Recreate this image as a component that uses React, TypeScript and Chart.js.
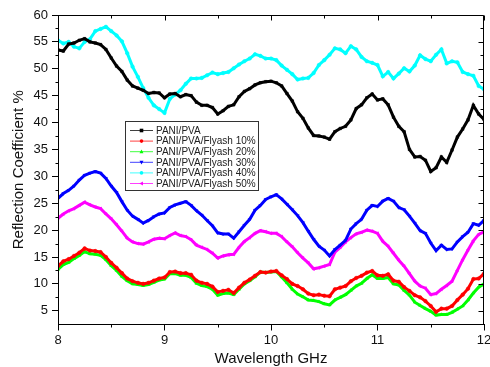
import React, { useEffect, useRef } from "react";
import { Chart, registerables } from "chart.js";

Chart.register(...registerables);

const X_GHZ = [
  8.0, 8.05, 8.1, 8.15, 8.2, 8.25, 8.3, 8.35, 8.4, 8.45,
  8.5, 8.55, 8.6, 8.65, 8.7, 8.75, 8.8, 8.85, 8.9, 8.95,
  9.0, 9.05, 9.1, 9.15, 9.2, 9.25, 9.3, 9.35, 9.4, 9.45,
  9.5, 9.55, 9.6, 9.65, 9.7, 9.75, 9.8, 9.85, 9.9, 9.95,
  10.0, 10.05, 10.1, 10.15, 10.2, 10.25, 10.3, 10.35, 10.4, 10.45,
  10.5, 10.55, 10.6, 10.65, 10.7, 10.75, 10.8, 10.85, 10.9, 10.95,
  11.0, 11.05, 11.1, 11.15, 11.2, 11.25, 11.3, 11.35, 11.4, 11.45,
  11.5, 11.55, 11.6, 11.65, 11.7, 11.75, 11.8, 11.85, 11.9, 11.95,
  12.0,
];

const PANI_PVA = [
  53.5, 53.3, 54.6, 54.8, 55.3, 55.6, 55.0, 54.8, 54.5, 53.6,
  52.0, 50.5, 49.5, 47.9, 46.8, 46.4, 46.0, 45.4, 45.6, 45.5,
  44.6, 45.3, 45.4, 44.8, 45.2, 45.0, 43.8, 43.2, 43.2, 42.8,
  41.6, 42.2, 43.0, 43.3, 44.8, 45.8, 46.3, 47.0, 47.4, 47.6,
  47.7, 47.4, 46.8, 45.4, 44.0, 42.0, 40.8, 39.0, 37.6, 37.5,
  37.3, 36.9, 38.3, 38.9, 39.3, 40.5, 42.6, 43.3, 44.6, 45.3,
  44.2, 44.4, 43.3, 41.0, 39.3, 38.3, 35.0, 33.6, 33.7, 33.0,
  30.9, 31.6, 33.6, 32.6, 34.9, 37.3, 38.8, 40.5, 43.2, 41.6,
  40.6,
];

const FLYASH_10 = [
  13.3, 14.2, 14.6, 15.2, 15.8, 16.6, 16.2, 16.1, 15.9, 15.0,
  13.9, 13.0, 12.0, 11.0, 10.5, 10.2, 10.0, 10.2, 10.6, 11.0,
  11.2, 12.2, 12.3, 12.0, 12.0, 11.7, 10.6, 10.2, 10.0, 9.5,
  8.5, 8.7, 8.9, 8.3, 9.3, 10.2, 10.8, 11.5, 12.2, 12.1,
  12.3, 12.4, 11.6, 10.9, 10.0, 9.6, 9.0, 8.2, 7.9, 8.0,
  7.8, 7.7, 9.0, 9.3, 9.6, 10.5, 11.1, 11.5, 12.1, 12.4,
  11.6, 11.5, 11.8, 10.6, 10.4, 9.4, 8.7, 7.9, 7.5, 6.8,
  5.9, 4.8, 5.4, 5.4, 5.9, 7.0, 8.0, 9.1, 10.9, 11.0,
  11.9,
];

const FLYASH_20 = [
  12.7, 13.6, 14.0, 14.7, 15.3, 16.0, 15.6, 15.5, 15.3, 14.5,
  13.4, 12.5, 11.4, 10.6, 10.0, 9.9, 9.7, 9.9, 10.3, 10.7,
  10.9, 11.9, 11.9, 11.6, 11.6, 11.2, 10.1, 9.7, 9.5, 9.0,
  7.9, 8.2, 8.3, 8.0, 9.0, 10.0, 10.6, 11.3, 12.2, 12.1,
  12.2, 12.3, 11.3, 10.2, 9.0, 8.1, 7.6, 7.0, 6.9, 6.7,
  6.3, 6.1, 7.0, 7.5, 8.0, 8.8, 9.6, 10.1, 11.0, 11.7,
  11.0, 11.0, 11.2, 10.0, 9.8, 8.8, 7.9, 6.6, 6.0, 5.4,
  4.9, 4.2, 4.3, 4.3, 4.7, 5.3, 5.9, 7.0, 8.3, 9.4,
  10.0,
];

const FLYASH_30 = [
  25.9, 26.8, 27.4, 28.2, 29.3, 30.2, 30.6, 30.9, 30.6, 29.6,
  28.2, 27.0, 25.3, 23.7, 22.6, 22.0, 21.3, 21.8, 22.5, 23.0,
  23.2, 24.2, 24.7, 25.0, 25.3, 24.6, 23.6, 22.8, 21.8, 20.8,
  19.5, 19.3, 19.3, 18.5, 19.7, 20.9, 22.0, 23.7, 24.6, 25.7,
  26.2, 26.6, 25.8, 24.8, 23.8, 22.7, 21.4, 19.8, 18.3, 17.0,
  16.3, 15.2, 16.4, 17.2, 18.1, 20.2, 21.2, 22.0, 23.7, 24.6,
  24.4, 25.4, 25.9, 25.4, 24.2, 23.8, 22.6, 21.3, 19.9, 19.4,
  17.6, 16.2, 17.2, 16.4, 16.5, 17.8, 18.8, 19.6, 21.2, 20.9,
  21.8,
];

const FLYASH_40 = [
  55.3, 54.7, 55.0, 54.1, 53.8, 55.0, 55.5, 57.0, 57.4, 57.8,
  57.0, 56.2, 55.1, 52.9, 50.4, 48.5, 46.4, 44.6, 43.2, 42.5,
  41.8, 44.4, 45.2, 46.0, 47.2, 48.2, 48.2, 48.3, 48.8, 49.3,
  49.0, 49.2, 49.4, 50.1, 50.8, 51.4, 51.9, 52.7, 52.4, 51.9,
  51.9, 51.6, 50.6, 49.8, 49.0, 48.0, 48.2, 48.3, 49.2, 50.7,
  51.6, 52.6, 53.8, 53.6, 52.9, 54.2, 53.6, 52.2, 51.4, 51.1,
  50.7, 48.6, 49.4, 48.2, 49.1, 50.1, 49.5, 50.6, 52.5, 51.8,
  51.4, 52.6, 53.6, 51.0, 51.4, 51.2, 49.4, 49.0, 48.7, 46.8,
  46.2,
];

const FLYASH_50 = [
  22.2, 23.0, 23.6, 24.0, 24.6, 25.2, 24.7, 24.3, 24.0, 23.0,
  22.1, 21.0, 19.8, 18.5, 17.8, 17.5, 17.4, 17.8, 18.3, 18.5,
  18.4, 19.0, 19.5, 19.0, 18.8, 18.2, 17.2, 16.8, 16.4, 15.7,
  14.8, 15.2, 15.4, 15.5, 16.8, 17.9, 18.6, 19.4, 19.9, 19.7,
  19.4, 19.4, 18.8, 17.8, 16.9, 15.8, 14.8, 13.9, 12.8, 13.0,
  13.3, 13.6, 15.9, 16.8, 17.8, 18.6, 19.3, 19.6, 20.0, 19.8,
  19.4, 17.9, 17.0, 15.7, 14.4, 13.3, 11.9, 10.5, 9.6, 9.2,
  8.0, 8.2, 9.0, 9.7, 10.5, 12.5, 14.5, 16.3, 18.0, 19.2,
  19.7,
];

const SERIES_NAMES = [
  "PANI/PVA",
  "PANI/PVA/Flyash 10%",
  "PANI/PVA/Flyash 20%",
  "PANI/PVA/Flyash 30%",
  "PANI/PVA/Flyash 40%",
  "PANI/PVA/Flyash 50%",
];
const SERIES_VALUES = [PANI_PVA, FLYASH_10, FLYASH_20, FLYASH_30, FLYASH_40, FLYASH_50];
const SERIES_COLORS = ["#000000", "#ff0000", "#00ff00", "#0000ff", "#00ffff", "#ff00ff"];
const SERIES_MARKERS = ["rect", "circle", "triangle", "triangleDown", "circle", "triangleLeft"];

const X_MAJOR = [8, 9, 10, 11, 12];
const X_MINOR = [8.5, 9.5, 10.5, 11.5];
const Y_MAJOR = [5, 10, 15, 20, 25, 30, 35, 40, 45, 50, 55, 60];
const Y_MINOR = [7.5, 12.5, 17.5, 22.5, 27.5, 32.5, 37.5, 42.5, 47.5, 52.5, 57.5];

const FONT = "Arial, 'Liberation Sans', Helvetica, sans-serif";

function markerStyle(m: string): { style: string; rotation: number } {
  if (m === "triangleDown") return { style: "triangle", rotation: 180 };
  if (m === "triangleLeft") return { style: "triangle", rotation: 270 };
  return { style: m, rotation: 0 };
}

function drawMarker(ctx: CanvasRenderingContext2D, m: string, x: number, y: number, r: number) {
  ctx.beginPath();
  if (m === "rect") {
    ctx.rect(x - r, y - r, 2 * r, 2 * r);
  } else if (m === "circle") {
    ctx.arc(x, y, r, 0, Math.PI * 2);
  } else if (m === "triangle") {
    ctx.moveTo(x, y - r * 1.2);
    ctx.lineTo(x + r * 1.1, y + r * 0.8);
    ctx.lineTo(x - r * 1.1, y + r * 0.8);
  } else if (m === "triangleDown") {
    ctx.moveTo(x, y + r * 1.2);
    ctx.lineTo(x + r * 1.1, y - r * 0.8);
    ctx.lineTo(x - r * 1.1, y - r * 0.8);
  } else if (m === "triangleLeft") {
    ctx.moveTo(x - r * 1.2, y);
    ctx.lineTo(x + r * 0.8, y - r * 1.1);
    ctx.lineTo(x + r * 0.8, y + r * 1.1);
  }
  ctx.closePath();
  ctx.fill();
}

const framePlugin = {
  id: "frame",
  afterDatasetsDraw(chart: any) {
    const { ctx, chartArea } = chart;
    const { left, right, top, bottom } = chartArea;
    const xs = chart.scales.x;
    const ys = chart.scales.y;
    const L = Math.round(left) + 0.5;
    const R = Math.round(right) - 0.5;
    const T = Math.round(top) + 0.5;
    const B = Math.round(bottom) - 0.5;
    ctx.save();
    ctx.strokeStyle = "#000";
    ctx.lineWidth = 1;
    ctx.beginPath();
    ctx.rect(L, T, R - L, B - T);
    ctx.stroke();
    ctx.beginPath();
    for (const v of Y_MINOR) {
      const py = Math.round(ys.getPixelForValue(v)) + 0.5;
      ctx.moveTo(L - 3, py);
      ctx.lineTo(L, py);
      ctx.moveTo(R - 3, py);
      ctx.lineTo(R, py);
    }
    for (const v of Y_MAJOR) {
      const py = Math.round(ys.getPixelForValue(v)) + 0.5;
      ctx.moveTo(R - 5, py);
      ctx.lineTo(R, py);
    }
    for (const v of X_MINOR) {
      const px = Math.round(xs.getPixelForValue(v)) + 0.5;
      ctx.moveTo(px, B);
      ctx.lineTo(px, B + 3);
      ctx.moveTo(px, T);
      ctx.lineTo(px, T + 3);
    }
    for (const v of X_MAJOR) {
      const px = Math.round(xs.getPixelForValue(v)) + 0.5;
      ctx.moveTo(px, T);
      ctx.lineTo(px, T + 5);
    }
    ctx.stroke();
    ctx.restore();
  },
  afterDraw(chart: any) {
    const ctx: CanvasRenderingContext2D = chart.ctx;
    const bx = 125.5;
    const by = 121.5;
    const bw = 133;
    const bh = 69;
    ctx.save();
    ctx.fillStyle = "#ffffff";
    ctx.fillRect(bx, by, bw, bh);
    ctx.strokeStyle = "#333";
    ctx.lineWidth = 1;
    ctx.strokeRect(bx, by, bw, bh);
    ctx.font = `10px ${FONT}`;
    ctx.textBaseline = "middle";
    ctx.textAlign = "left";
    SERIES_NAMES.forEach((name, i) => {
      const cy = 130.5 + i * 10.6;
      const col = SERIES_COLORS[i];
      ctx.globalAlpha = 0.75;
      ctx.strokeStyle = col;
      ctx.lineWidth = 1;
      ctx.beginPath();
      ctx.moveTo(130, cy);
      ctx.lineTo(153, cy);
      ctx.stroke();
      ctx.globalAlpha = 1;
      ctx.fillStyle = col;
      drawMarker(ctx, SERIES_MARKERS[i], 141.5, cy, 1.8);
      ctx.fillStyle = "#222";
      ctx.fillText(name, 156, cy + 0.5);
    });
    ctx.restore();
  },
};

export default function App() {
  const canvasRef = useRef<HTMLCanvasElement | null>(null);

  useEffect(() => {
    if (!canvasRef.current) return;
    const datasets = SERIES_NAMES.map((name, i) => {
      const mk = markerStyle(SERIES_MARKERS[i]);
      return {
        label: name,
        data: X_GHZ.map((x, j) => ({ x, y: SERIES_VALUES[i][j] })),
        borderColor: SERIES_COLORS[i],
        backgroundColor: SERIES_COLORS[i],
        pointBackgroundColor: SERIES_COLORS[i],
        pointBorderColor: SERIES_COLORS[i],
        borderWidth: 3,
        pointRadius: 1.8,
        pointBorderWidth: 0.5,
        pointStyle: mk.style,
        rotation: mk.rotation,
        tension: 0,
        fill: false,
      };
    });

    const chart = new Chart(canvasRef.current, {
      type: "line",
      data: { datasets } as any,
      plugins: [framePlugin as any],
      options: {
        animation: false,
        responsive: false,
        devicePixelRatio: 1,
        layout: { padding: { top: 15, right: 6, left: 0, bottom: 0 } },
        plugins: {
          legend: { display: false },
          tooltip: { enabled: false },
        },
        scales: {
          x: {
            type: "linear",
            min: 8,
            max: 12,
            afterBuildTicks: (s: any) => {
              s.ticks = X_MAJOR.map((v) => ({ value: v }));
            },
            afterFit: (s: any) => {
              s.height = 42.5;
              s.paddingLeft = 0;
              s.paddingRight = 0;
            },
            ticks: {
              color: "#111",
              font: { family: FONT, size: 13 },
              padding: 2,
              maxRotation: 0,
              autoSkip: false,
              callback: (v: any) => String(v),
            },
            grid: { drawOnChartArea: false, drawTicks: true, tickLength: 6, color: "#000" },
            border: { display: true, color: "#000" },
            title: {
              display: true,
              text: "Wavelength GHz",
              color: "#111",
              font: { family: FONT, size: 15 },
              padding: { top: 2, bottom: -1 },
            },
          },
          y: {
            type: "linear",
            min: 2.45,
            max: 60,
            afterBuildTicks: (s: any) => {
              s.ticks = Y_MAJOR.map((v) => ({ value: v }));
            },
            afterFit: (s: any) => {
              s.width = 58;
              s.paddingTop = 0;
              s.paddingBottom = 0;
            },
            ticks: {
              color: "#111",
              font: { family: FONT, size: 13 },
              padding: 4,
              autoSkip: false,
              callback: (v: any) => String(v),
            },
            grid: { drawOnChartArea: false, drawTicks: true, tickLength: 6, color: "#000" },
            border: { display: true, color: "#000" },
            title: {
              display: true,
              text: "Reflection Coefficient %",
              color: "#111",
              font: { family: FONT, size: 15 },
              padding: { top: 9.5, bottom: 0 },
            },
          },
        },
      } as any,
    });
    return () => chart.destroy();
  }, []);

  return (
    <div style={{ position: "fixed", left: 0, top: 0, width: 490, height: 367, background: "#fff" }}>
      <canvas ref={canvasRef} width={490} height={367} style={{ display: "block", width: 490, height: 367 }} />
    </div>
  );
}
